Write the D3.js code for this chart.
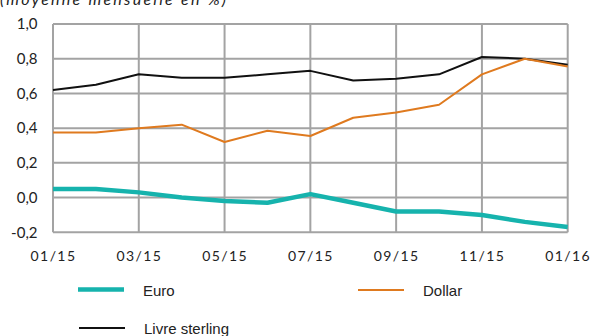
<!DOCTYPE html>
<html>
<head>
<meta charset="utf-8">
<script src="https://cdn.jsdelivr.net/npm/d3@7"></script>
<style>
  html, body { margin: 0; padding: 0; background: #fff; }
  svg { display: block; }
</style>
</head>
<body>
<svg id="chart" width="592" height="336"></svg>
<script>
// Monthly averages, in %
const months = ["01/15","02/15","03/15","04/15","05/15","06/15","07/15","08/15","09/15","10/15","11/15","12/15","01/16"];
const euro   = [0.05, 0.05, 0.03, 0.00, -0.02, -0.03, 0.02, -0.03, -0.08, -0.08, -0.10, -0.14, -0.17];
const dollar = [0.375, 0.375, 0.40, 0.42, 0.32, 0.385, 0.355, 0.46, 0.49, 0.535, 0.71, 0.80, 0.755];
const livre  = [0.62, 0.65, 0.71, 0.69, 0.69, 0.71, 0.73, 0.675, 0.685, 0.71, 0.81, 0.80, 0.765];
const xTickLabels = ["01/15","03/15","05/15","07/15","09/15","11/15","01/16"];
const yTicks = [-0.2, 0, 0.2, 0.4, 0.6, 0.8, 1.0];

const series = [
  { name: "Euro", values: euro, color: "#16b3ad", width: 4.5 },
  { name: "Dollar", values: dollar, color: "#df7a1f", width: 2 },
  { name: "Livre sterling", values: livre, color: "#111111", width: 2 }
];

const svg = d3.select("#chart");
const plotLeft = 53, plotRight = 567.7, plotTop = 24, plotBottom = 232.3;

const x = d3.scalePoint().domain(months).range([plotLeft, plotRight]);
const y = d3.scaleLinear().domain([-0.2, 1.0]).range([plotBottom, plotTop]);

const tickFont = "Lato, 'Open Sans', sans-serif";
const gridColor = "#a3a3a3";

// Subtitle, running against the top edge
svg.append("text")
  .attr("x", 0).attr("y", 5)
  .attr("font-family", tickFont).attr("font-style", "italic")
  .attr("font-size", 16).attr("fill", "#222")
  .attr("textLength", 226).attr("lengthAdjust", "spacing")
  .text("(moyenne mensuelle en %)");

// Horizontal grid
svg.append("g")
  .selectAll("line").data(yTicks).join("line")
  .attr("x1", plotLeft).attr("x2", plotRight)
  .attr("y1", d => y(d)).attr("y2", d => y(d))
  .attr("stroke", gridColor).attr("stroke-width", 2);

// Vertical grid (every other month)
svg.append("g")
  .selectAll("line").data(xTickLabels).join("line")
  .attr("x1", d => x(d)).attr("x2", d => x(d))
  .attr("y1", plotTop).attr("y2", plotBottom)
  .attr("stroke", gridColor).attr("stroke-width", 2);

// Y axis labels
const yAxis = d3.axisLeft(y).tickValues(yTicks).tickSize(0).tickPadding(0)
  .tickFormat(d => d3.format(".1f")(d).replace(".", ",").replace("−", "-"));
const gy = svg.append("g").attr("transform", `translate(${plotLeft - 15.5},0)`).call(yAxis);
gy.select(".domain").remove();
gy.selectAll("text").attr("font-family", tickFont).attr("font-size", 15).attr("fill", "#222");

// X axis labels
const xAxis = d3.axisBottom(x).tickValues(xTickLabels).tickSize(0).tickPadding(0);
const gx = svg.append("g").attr("transform", `translate(0,${plotBottom + 19})`).call(xAxis);
gx.select(".domain").remove();
gx.selectAll("text").attr("font-family", tickFont).attr("font-size", 14)
  .attr("fill", "#222").attr("letter-spacing", 1.4);

// Series lines
const line = d3.line().x((d, i) => x(months[i])).y(d => y(d));
svg.append("g")
  .selectAll("path").data(series.slice().reverse()).join("path")
  .attr("d", d => line(d.values))
  .attr("fill", "none")
  .attr("stroke", d => d.color)
  .attr("stroke-width", d => d.width)
  .attr("stroke-linejoin", "round");

// Legend
const legendPos = [
  { lx: 78, ly: 289.5 },
  { lx: 358, ly: 290 },
  { lx: 79, ly: 328 }
];
const legend = svg.append("g");
series.forEach((s, i) => {
  const p = legendPos[i];
  legend.append("line")
    .attr("x1", p.lx).attr("x2", p.lx + 46)
    .attr("y1", p.ly).attr("y2", p.ly)
    .attr("stroke", s.color).attr("stroke-width", s.width);
  legend.append("text")
    .attr("x", p.lx + 65).attr("y", p.ly + 6)
    .attr("font-family", "'Liberation Sans', Arial, sans-serif")
    .attr("font-size", 15).attr("fill", "#222")
    .text(s.name);
});
</script>
</body>
</html>
